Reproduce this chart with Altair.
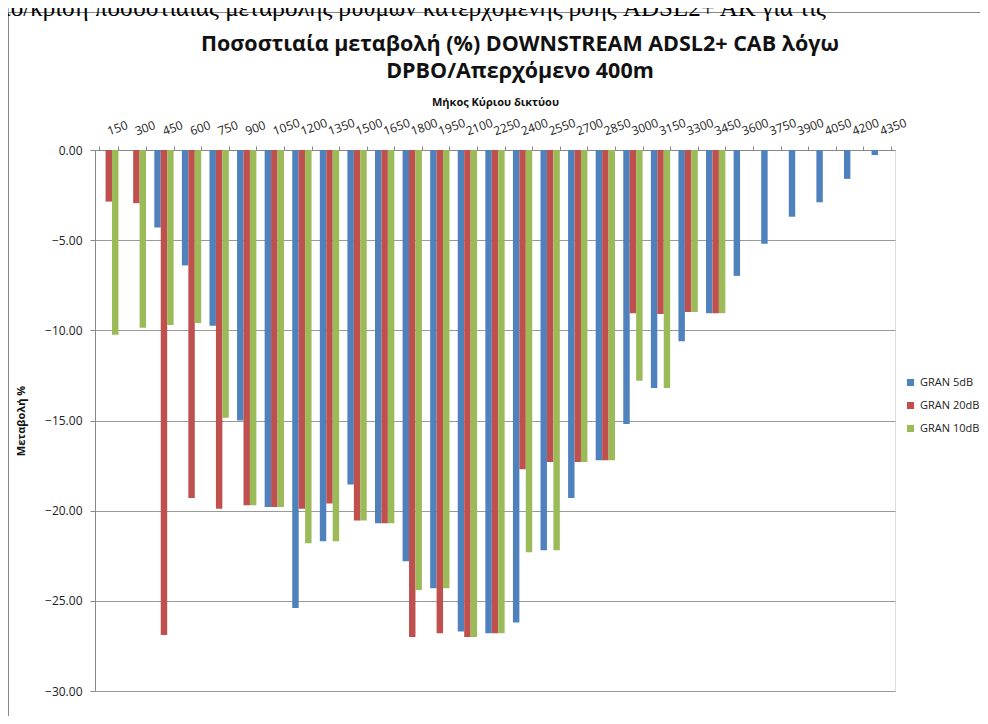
import altair as alt
import pandas as pd

lengths = [150, 300, 450, 600, 750, 900, 1050, 1200, 1350, 1500, 1650, 1800, 1950, 2100, 2250,
           2400, 2550, 2700, 2850, 3000, 3150, 3300, 3450, 3600, 3750, 3900, 4050, 4200, 4350]
gran5 = [None, None, -4.3, -6.4, -9.75, -15.0, -19.8, -25.4, -21.7, -18.55, -20.7, -22.8, -24.3, -26.7, -26.8,
         -26.2, -22.2, -19.3, -17.2, -15.2, -13.2, -10.6, -9.05, -6.98, -5.2, -3.7, -2.9, -1.6, -0.28]
gran20 = [-2.86, -2.95, -26.9, -19.3, -19.9, -19.7, -19.8, -19.9, -19.6, -20.55, -20.7, -27.0, -26.8, -27.0, -26.8,
          -17.7, -17.3, -17.3, -17.2, -9.05, -9.1, -8.98, -9.05, None, None, None, None, None, None]
gran10 = [-10.25, -9.85, -9.7, -9.6, -14.85, -19.7, -19.8, -21.8, -21.7, -20.55, -20.7, -24.4, -24.3, -27.0, -26.8,
          -22.3, -22.2, -17.3, -17.2, -12.8, -13.2, -8.98, -9.05, None, None, None, None, None, None]
series = ["GRAN 5dB", "GRAN 20dB", "GRAN 10dB"]
colors = ["#4F81BD", "#C0504D", "#9BBB59"]
y_ticks = [0, -5, -10, -15, -20, -25, -30]

title_lines = ["Ποσοστιαία μεταβολή (%) DOWNSTREAM ADSL2+ CAB λόγω", "DPBO/Απερχόμενο 400m"]
fragment = "ιο/κρισή ποσοστιαίας μεταβολής ρυθμών κατερχόμενης ροής ADSL2+ AK για τις"

rows = []
for name, vals in zip(series, [gran5, gran20, gran10]):
    for L, v in zip(lengths, vals):
        if v is not None:
            rows.append({"Μήκος": str(L), "Σειρά": name, "Τιμή": v})
df = pd.DataFrame(rows)
label_order = [str(L) for L in lengths]

W, H = 800, 541
PL, PT = 87, 142

bars = alt.Chart(df).mark_bar().encode(
    x=alt.X("Μήκος:N", sort=label_order,
            scale=alt.Scale(paddingInner=0.3, paddingOuter=0.15),
            axis=alt.Axis(orient="top", title="Μήκος Κύριου δικτύου", labelAngle=340,
                          labelAlign="left", labelBaseline="alphabetic",
                          labelFont="Open Sans", labelFontSize=12, labelColor="#222",
                          labelPadding=11, tickSize=4, tickBand="extent", tickColor="#888",
                          domainColor="#888", titleFont="Open Sans", titleFontSize=11,
                          titleFontWeight="bold", titleColor="#111", titlePadding=9,
                          labelOverlap=False)),
    xOffset=alt.XOffset("Σειρά:N", sort=series, scale=alt.Scale(paddingInner=0, paddingOuter=0)),
    y=alt.Y("Τιμή:Q", scale=alt.Scale(domain=[-30, 0], nice=False),
            axis=alt.Axis(values=y_ticks, format=".2f", title="Μεταβολή %",
                          labelFont="Open Sans", labelFontSize=12, labelColor="#222",
                          labelPadding=8, tickSize=5, tickColor="#888", domainColor="#888",
                          gridColor="#999", titleFont="Open Sans", titleFontSize=11,
                          titleFontWeight="bold", titleColor="#111", titlePadding=18)),
    color=alt.Color("Σειρά:N", sort=series,
                    scale=alt.Scale(domain=series, range=colors),
                    legend=alt.Legend(title=None, orient="none", legendX=810, legendY=227,
                                      symbolType="square", symbolSize=50, symbolStrokeWidth=0,
                                      labelFont="Open Sans", labelFontSize=11, labelColor="#222",
                                      rowPadding=11)),
)

frag = alt.Chart(pd.DataFrame({"t": [fragment]})).mark_text(
    align="left", baseline="alphabetic", font="Liberation Serif", fontSize=25, color="#000"
).encode(text="t:N", x=alt.value(-PL - 4), y=alt.value(-PT + 8))

title_df = pd.DataFrame({"t": title_lines, "k": [0, 1]})
title1 = alt.Chart(title_df.iloc[[0]]).mark_text(
    align="center", baseline="alphabetic", font="Open Sans", fontSize=21.5, fontWeight="bold", color="#111"
).encode(text="t:N", x=alt.value(425), y=alt.value(-99))
title2 = alt.Chart(title_df.iloc[[1]]).mark_text(
    align="center", baseline="alphabetic", font="Open Sans", fontSize=21.5, fontWeight="bold", color="#111"
).encode(text="t:N", x=alt.value(425), y=alt.value(-72))

border = alt.Chart(pd.DataFrame({"b": [1]})).mark_rect(
    fillOpacity=0, stroke="#888", strokeWidth=1
).encode(x=alt.value(-PL + 0.5), x2=alt.value(W + 200), y=alt.value(-PT + 4.5), y2=alt.value(H + 200))

chart = alt.layer(border, frag, title1, title2, bars).properties(
    width=W, height=H,
    padding={"left": PL, "top": PT, "right": 85, "bottom": 25},
    autosize=alt.AutoSizeParams(type="none"),
).configure_view(stroke=None).configure(background="white")

chart.save("out.html", embed_options={"renderer": "svg", "actions": False})
